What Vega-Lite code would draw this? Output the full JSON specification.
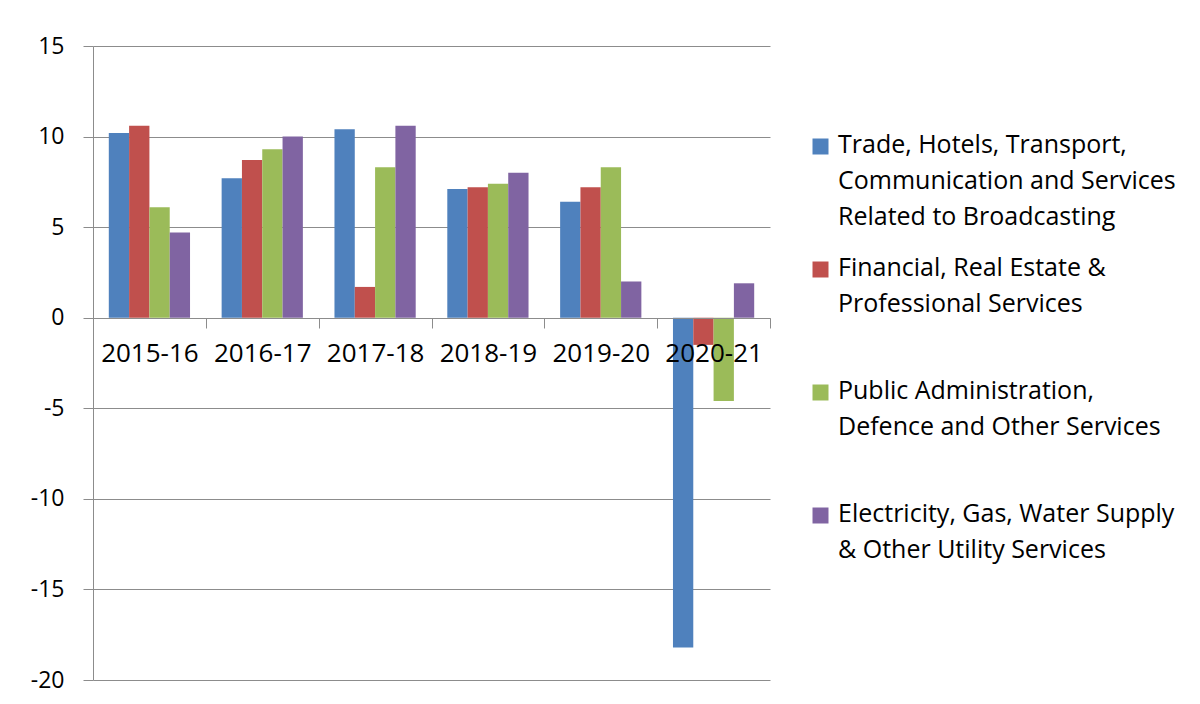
{
  "$schema": "https://vega.github.io/schema/vega-lite/v6.json",
  "width": 677,
  "height": 634,
  "autosize": {"type": "none"},
  "padding": {"left": 93, "top": 46, "right": 430, "bottom": 24},
  "background": "white",
  "config": {
    "font": "Open Sans",
    "view": {"stroke": null},
    "axis": {"labelColor": "#000000", "domainColor": "#8c8c8c", "tickColor": "#8c8c8c", "gridColor": "#8c8c8c", "labelFont": "Open Sans"},
    "legend": {"labelFont": "Open Sans", "labelColor": "#000000"}
  },
  "data": {
    "values": [
      {"year": "2015-16", "sector": "Trade, Hotels, Transport, Communication and Services Related to Broadcasting", "value": 10.2},
      {"year": "2015-16", "sector": "Financial, Real Estate & Professional Services", "value": 10.6},
      {"year": "2015-16", "sector": "Public Administration, Defence and Other Services", "value": 6.1},
      {"year": "2015-16", "sector": "Electricity, Gas, Water Supply & Other Utility Services", "value": 4.7},
      {"year": "2016-17", "sector": "Trade, Hotels, Transport, Communication and Services Related to Broadcasting", "value": 7.7},
      {"year": "2016-17", "sector": "Financial, Real Estate & Professional Services", "value": 8.7},
      {"year": "2016-17", "sector": "Public Administration, Defence and Other Services", "value": 9.3},
      {"year": "2016-17", "sector": "Electricity, Gas, Water Supply & Other Utility Services", "value": 10.0},
      {"year": "2017-18", "sector": "Trade, Hotels, Transport, Communication and Services Related to Broadcasting", "value": 10.4},
      {"year": "2017-18", "sector": "Financial, Real Estate & Professional Services", "value": 1.7},
      {"year": "2017-18", "sector": "Public Administration, Defence and Other Services", "value": 8.3},
      {"year": "2017-18", "sector": "Electricity, Gas, Water Supply & Other Utility Services", "value": 10.6},
      {"year": "2018-19", "sector": "Trade, Hotels, Transport, Communication and Services Related to Broadcasting", "value": 7.1},
      {"year": "2018-19", "sector": "Financial, Real Estate & Professional Services", "value": 7.2},
      {"year": "2018-19", "sector": "Public Administration, Defence and Other Services", "value": 7.4},
      {"year": "2018-19", "sector": "Electricity, Gas, Water Supply & Other Utility Services", "value": 8.0},
      {"year": "2019-20", "sector": "Trade, Hotels, Transport, Communication and Services Related to Broadcasting", "value": 6.4},
      {"year": "2019-20", "sector": "Financial, Real Estate & Professional Services", "value": 7.2},
      {"year": "2019-20", "sector": "Public Administration, Defence and Other Services", "value": 8.3},
      {"year": "2019-20", "sector": "Electricity, Gas, Water Supply & Other Utility Services", "value": 2.0},
      {"year": "2020-21", "sector": "Trade, Hotels, Transport, Communication and Services Related to Broadcasting", "value": -18.2},
      {"year": "2020-21", "sector": "Financial, Real Estate & Professional Services", "value": -1.5},
      {"year": "2020-21", "sector": "Public Administration, Defence and Other Services", "value": -4.6},
      {"year": "2020-21", "sector": "Electricity, Gas, Water Supply & Other Utility Services", "value": 1.9}
    ]
  },
  "mark": {"type": "bar"},
  "encoding": {
    "x": {
      "field": "year",
      "type": "nominal",
      "sort": null,
      "scale": {"paddingInner": 0, "paddingOuter": 0},
      "axis": {
        "title": null,
        "orient": "bottom",
        "offset": -362,
        "zindex": 1,
        "labelAngle": 0,
        "labelFontSize": 26,
        "labelBaseline": "top",
        "tickBand": "extent",
        "tickSize": 10,
        "labelPadding": 12,
        "grid": false,
        "domainWidth": 1
      }
    },
    "xOffset": {
      "field": "sector",
      "type": "nominal",
      "scale": {
        "domain": [
          "Trade, Hotels, Transport, Communication and Services Related to Broadcasting",
          "Financial, Real Estate & Professional Services",
          "Public Administration, Defence and Other Services",
          "Electricity, Gas, Water Supply & Other Utility Services"
        ],
        "paddingInner": 0,
        "paddingOuter": 0.778
      }
    },
    "y": {
      "field": "value",
      "type": "quantitative",
      "scale": {"domain": [-20, 15], "nice": false, "zero": false},
      "axis": {
        "title": null,
        "values": [-20, -15, -10, -5, 0, 5, 10, 15],
        "labelExpr": "replace(datum.label, '\u2212', '-')",
        "labelFontSize": 23,
        "tickSize": 10,
        "labelPadding": 19,
        "grid": true,
        "gridWidth": 1
      }
    },
    "color": {
      "field": "sector",
      "type": "nominal",
      "scale": {
        "domain": [
          "Trade, Hotels, Transport, Communication and Services Related to Broadcasting",
          "Financial, Real Estate & Professional Services",
          "Public Administration, Defence and Other Services",
          "Electricity, Gas, Water Supply & Other Utility Services"
        ],
        "range": ["#4F81BD", "#C0504D", "#9BBB59", "#8064A2"]
      },
      "legend": {
        "title": null,
        "orient": "none",
        "legendX": 715,
        "legendY": 88,
        "padding": 0,
        "direction": "vertical",
        "columns": 1,
        "symbolType": "square",
        "symbolSize": 256,
        "symbolStrokeWidth": 0,
        "symbolOpacity": 1,
        "labelFontSize": 25,
        "labelLimit": 400,
        "labelOffset": 5,
        "labelBaseline": "alphabetic",
        "rowPadding": 25,
        "labelExpr": "datum.label == 'Trade, Hotels, Transport, Communication and Services Related to Broadcasting' ? ['Trade, Hotels, Transport,', 'Communication and Services', 'Related to Broadcasting'] : datum.label == 'Financial, Real Estate & Professional Services' ? ['Financial, Real Estate &', 'Professional Services', ''] : datum.label == 'Public Administration, Defence and Other Services' ? ['Public Administration,', 'Defence and Other Services', ''] : ['Electricity, Gas, Water Supply', '& Other Utility Services', '']",
        "encode": {
          "labels": {"update": {"dy": {"value": 6}, "lineHeight": {"value": 36}}}
        }
      }
    }
  }
}
